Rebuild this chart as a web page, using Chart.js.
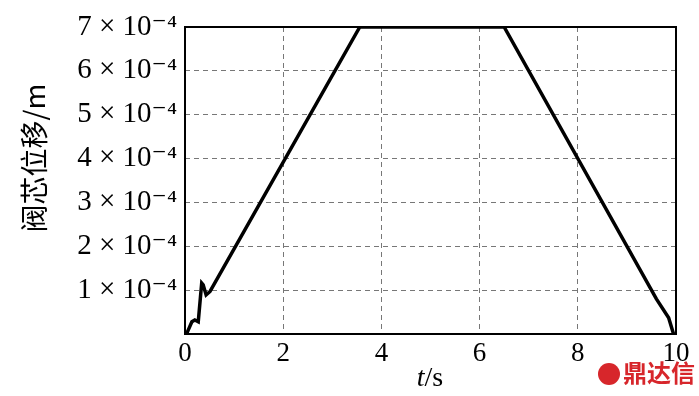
<!DOCTYPE html>
<html>
<head>
<meta charset="utf-8">
<script src="https://cdn.jsdelivr.net/npm/chart.js@4"></script>
<style>
  body { margin: 0; background: #fff; }
  #wrap { position: relative; width: 699px; height: 396px; }
  #mark { position: absolute; left: 598px; top: 358px; color: #d7262b; font: bold 24px "Noto Sans CJK SC", sans-serif; line-height: 28px; }
  #mark span { display: inline-block; width: 22px; height: 22px; border-radius: 50%; background: #d7262b; vertical-align: -3px; margin-right: 3px; }
</style>
</head>
<body>
<div id="wrap">
  <canvas id="grafico" width="699" height="396"></canvas>
  <div id="mark"><span></span>鼎达信</div>
</div>
<script>
// tempo (s) e deslocamento do carretel (em 10^-4 m)
var tempo = [0.03, 0.07, 0.14, 0.2, 0.27, 0.34, 0.37, 0.43, 0.51, 3.56, 6.5, 9.6, 9.85, 9.95];
var deslocamento = [0, 0.1, 0.28, 0.32, 0.28, 1.16, 1.12, 0.89, 0.97, 7, 7, 0.8, 0.37, 0];
var ticksX = [0, 2, 4, 6, 8, 10];
var tituloY = '阀芯位移/m';

var serif = '"Liberation Serif", "DejaVu Serif", serif';

var pontos = [];
for (i = 0; i < tempo.length; i++) {
  pontos.push({ x: tempo[i], y: deslocamento[i] });
}

// moldura e titulos dos eixos
var moldura = {
  id: 'moldura',
  afterDraw: function (chart) {
    var ctx = chart.ctx;
    var a = chart.chartArea;
    ctx.save();
    ctx.strokeStyle = '#000';
    ctx.lineWidth = 2;
    ctx.strokeRect(a.left, a.top, a.right - a.left, a.bottom - a.top);
    ctx.fillStyle = '#000';
    ctx.textBaseline = 'alphabetic';
    ctx.font = 'italic 28px ' + serif;
    var wt = ctx.measureText('t').width;
    ctx.font = '28px ' + serif;
    var ws = ctx.measureText('/s').width;
    var x0 = 430 - (wt + ws) / 2;
    ctx.font = 'italic 28px ' + serif;
    ctx.fillText('t', x0, 386);
    ctx.font = '28px ' + serif;
    ctx.fillText('/s', x0 + wt, 386);

    // titulo do eixo y
    ctx.translate(34, 158);
    ctx.rotate(-Math.PI / 2);
    ctx.textAlign = 'center';
    ctx.textBaseline = 'middle';
    ctx.font = '28px "Noto Sans CJK SC", sans-serif';
    ctx.fillText(tituloY, 0, 0);
    ctx.restore();
  }
};

var ctx = document.getElementById('grafico').getContext('2d');
var chart = new Chart(ctx, {
  type: 'line',
  data: {
    datasets: [{
      data: pontos,
      borderColor: '#000',
      borderWidth: 3.5,
      pointRadius: 0,
      tension: 0,
      fill: false
    }]
  },
  options: {
    responsive: false,
    animation: false,
    layout: { padding: { left: 8, right: 23, top: 27, bottom: 0 } },
    plugins: { legend: { display: false }, tooltip: { enabled: false } },
    scales: {
      x: {
        type: 'linear',
        min: 0,
        max: 10,
        afterBuildTicks: function (s) { s.ticks = ticksX.map(function (v) { return { value: v }; }); },
        grid: {
          color: function (c) { return (c.tick.value == 0 || c.tick.value == 10) ? 'rgba(0,0,0,0)' : '#777'; },
          lineWidth: 1,
          drawTicks: false
        },
        border: { display: false, dash: [5, 4] },
        ticks: { color: '#000', font: { family: serif, size: 27 }, padding: 4, maxRotation: 0 },
        afterFit: function (s) { s.height = 62; }
      },
      y: {
        min: 0,
        max: 7,
        ticks: {
          stepSize: 1,
          color: '#000',
          font: { family: serif, size: 29 },
          padding: 8,
          callback: function (v) { return v == 0 ? '' : v + ' × 10⁻⁴'; }
        },
        grid: {
          color: function (c) { return (c.tick.value == 0 || c.tick.value == 7) ? 'rgba(0,0,0,0)' : '#777'; },
          lineWidth: 1,
          drawTicks: false
        },
        border: { display: false, dash: [5, 4] },
        afterFit: function (s) { s.width = 177; }
      }
    }
  },
  plugins: [moldura]
});
</script>
</body>
</html>
